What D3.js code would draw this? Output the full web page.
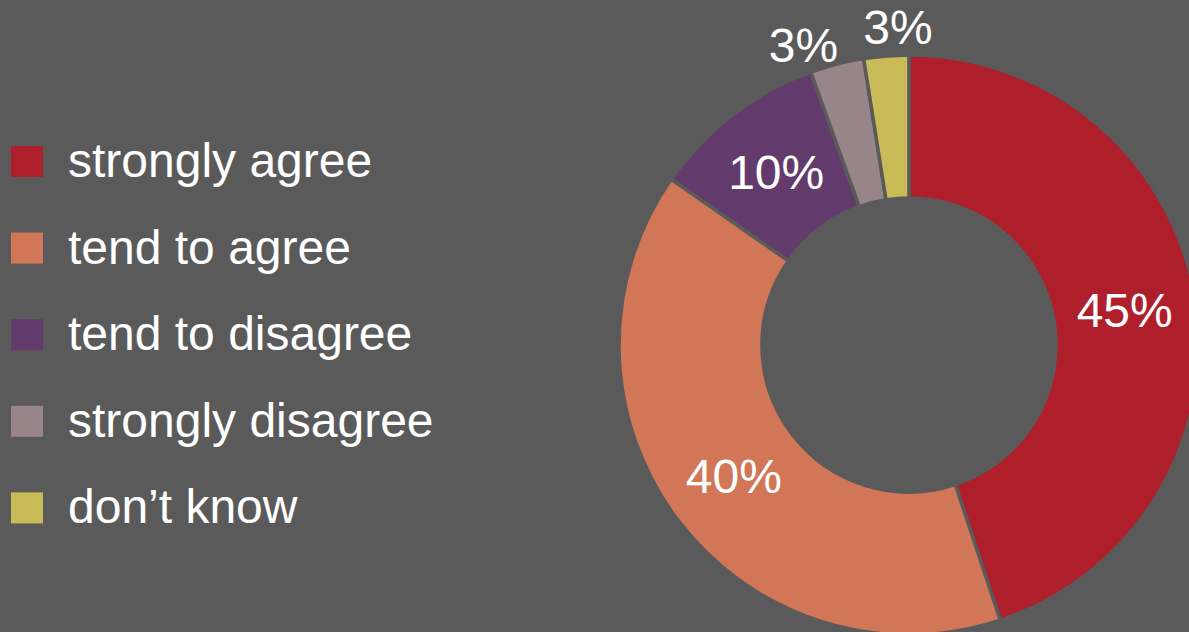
<!DOCTYPE html>
<html>
<head>
<meta charset="utf-8">
<script src="https://cdn.jsdelivr.net/npm/d3@7"></script>
<style>
  html, body { margin: 0; padding: 0; background: #5a5a5a; overflow: hidden; }
  svg { display: block; font-family: "Liberation Sans", Arial, sans-serif; }
</style>
</head>
<body>
<div id="chart"></div>
<script>
var categories = ["strongly agree", "tend to agree", "tend to disagree", "strongly disagree", "don\u2019t know"];
var values = [44.9, 39.8, 9.8, 3.0, 2.5];
var colors = ["#ae1f2b", "#d17657", "#623b6c", "#988589", "#c9bb57"];

var width = 1189,
    height = 632,
    cx = 909,
    cy = 345,
    outerR = 290,
    innerR = 147;

var svg = d3.select("#chart").append("svg")
    .attr("width", width)
    .attr("height", height);

svg.append("rect")
    .attr("width", width)
    .attr("height", height)
    .style("fill", "#5a5a5a");

var data = categories.map(function(c, i) { return {name: c, value: values[i]}; });

var pie = d3.pie()
    .sort(null)
    .value(function(d) { return d.value; });

var arc = d3.arc()
    .innerRadius(innerR)
    .outerRadius(outerR);

var arcs = pie(data);

var g = svg.append("g")
    .attr("transform", "translate(" + cx + "," + cy + ")");

g.selectAll("path")
    .data(arcs)
    .enter().append("path")
    .attr("d", arc)
    .style("fill", function(d, i) { return colors[i]; })
    .style("stroke", "#5a5a5a")
    .style("stroke-width", 3.5);

// small slices get their label outside, nudged apart a bit
var outerLabelR = 318;
var nudge = [0, 0, 0, -5, 2.5];

g.selectAll("text.pct")
    .data(arcs)
    .enter().append("text")
    .attr("class", "pct")
    .attr("transform", function(d, i) {
        var p;
        if (d.data.value >= 5) {
            p = arc.centroid(d);
        } else {
            var a = (d.startAngle + d.endAngle) / 2 + nudge[i] * Math.PI / 180;
            p = [outerLabelR * Math.sin(a), -outerLabelR * Math.cos(a)];
        }
        return "translate(" + p[0] + "," + p[1] + ")";
    })
    .attr("dy", "0.36em")
    .attr("text-anchor", "middle")
    .style("fill", "#fff")
    .style("font-size", "48px")
    .text(function(d) { return Math.round(d.data.value) + "%"; });

// legend
var legend = svg.append("g")
    .attr("transform", "translate(11,146)");

var item = legend.selectAll("g")
    .data(categories)
    .enter().append("g")
    .attr("transform", function(d, i) { return "translate(0," + (i * 86.6) + ")"; });

item.append("rect")
    .attr("width", 32)
    .attr("height", 31)
    .style("fill", function(d, i) { return colors[i]; });

item.append("text")
    .attr("x", 57)
    .attr("y", 31)
    .style("fill", "#fff")
    .style("font-size", "48px")
    .text(function(d) { return d; });
</script>
</body>
</html>
